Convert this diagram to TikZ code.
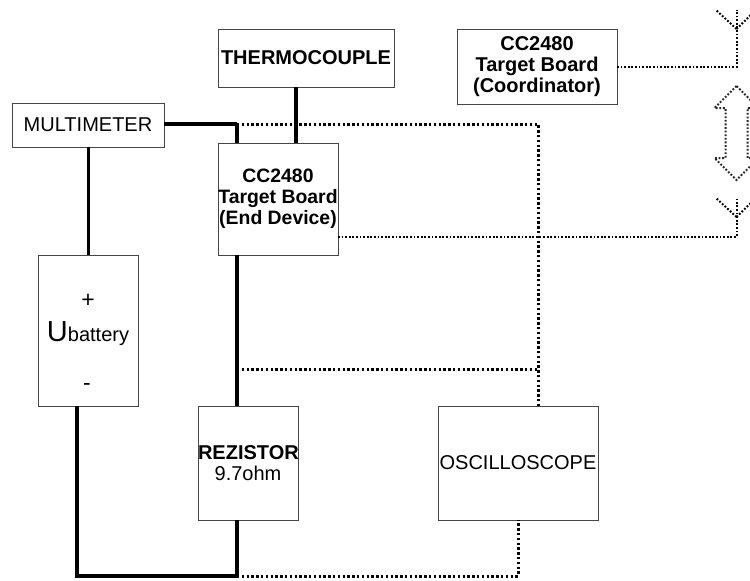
\documentclass[tikz,border=0pt]{standalone}
\usepackage{fontspec}
\setmainfont{Liberation Sans}
\usetikzlibrary{positioning, shapes.arrows}
\definecolor{boxgray}{RGB}{70, 70, 70}
\hfuzz=10pt
\begin{document}
\begin{tikzpicture}[
  x=1pt, y=-1pt,
  box/.style={rectangle, draw=boxgray, line width=1pt, outer sep=0pt, inner sep=0pt,
              align=center, fill=white, font=\fontsize{20}{21}\selectfont},
  boldbox/.style={box, font=\fontsize{20}{21}\selectfont\bfseries},
  wire/.style={line width=4pt, black},
  signal/.style={line width=3pt, black, dash pattern=on 2.4pt off 2.4pt},
  radio/.style={line width=2pt, black, dash pattern=on 1.8pt off 1.8pt},
  radioarrow/.style={shape=double arrow, draw=black!85, line width=2pt,
              dash pattern=on 1.8pt off 1.8pt, rotate=90, inner xsep=0pt, inner ysep=10pt, outer sep=0pt,
              minimum height=94pt, minimum width=42pt, double arrow head extend=11pt}
]
  \clip (0,0) rectangle (750,581);
  \fill[white] (0,0) rectangle (750,581);

  \node[box, minimum width=152pt, minimum height=44pt] (multimeter) at (88,125) {MULTIMETER};
  \node[boldbox, minimum width=176pt, minimum height=58pt] (thermo) at (306,58) {THERMOCOUPLE};
  \node[boldbox, minimum width=160pt, minimum height=75pt] (coordinator) at (537,66.5) {CC2480\\Target Board\\(Coordinator)};
  \node[boldbox, font=\fontsize{19.4}{21}\selectfont\bfseries, minimum width=120pt, minimum height=112pt] (board) at (278,199) {CC2480\\Target Board\\(End Device)};
  \node[box, below=108pt of multimeter, minimum width=100pt, minimum height=151pt] (battery) {};
  \node[box, text width=100pt, minimum height=114pt] (rezistor) at (248,463)
    {\textbf{REZISTOR}\\9.7ohm};
  \node[box, right=140pt of rezistor, minimum width=160pt, minimum height=114pt] (scope) {OSCILLOSCOPE};

  \node[font=\fontsize{23}{23}\selectfont] (plus) at (88,301) {+};
  \node[font=\fontsize{20}{20}\selectfont, anchor=base] (ubat) at (88,341)
    {{\fontsize{29}{29}\selectfont U}battery};
  \node[font=\fontsize{23}{23}\selectfont] (minus) at (87,387) {-};

  \coordinate (tapmeter) at (237,124);
  \coordinate (cornermeter) at (538,124);
  \coordinate (tapmid) at (237,369);
  \coordinate (cornermid) at (538,369);
  \coordinate (tapbottom) at (237,576);
  \coordinate (cornerbat) at (77,576);
  \coordinate (cornerscope) at (518,576);

  \draw[wire, line width=3.5pt] (multimeter.east |- tapmeter) -- (tapmeter);
  \draw[wire] (tapmeter) -- (tapmeter |- board.north);
  \draw[wire] (296,87) -- (296,143);
  \draw[wire, line width=3pt] (multimeter.south) -- (battery.north);
  \draw[wire] (tapmeter |- board.south) -- (tapmeter |- rezistor.north);
  \draw[wire] (tapmeter |- rezistor.south) -- (tapbottom);
  \draw[wire] (cornerbat |- battery.south) -- (cornerbat) -- (tapbottom);

  \draw[signal] (tapmeter) -- (cornermeter) -- (cornermeter |- scope.north);
  \draw[signal] (tapmid) -- (cornermid);
  \draw[signal] (tapbottom) -- (cornerscope) -- (cornerscope |- scope.south);

  \coordinate (aeriala) at (736.5,67);
  \coordinate (aerialb) at (736.5,237);
  \coordinate (joina) at (736.5,29);
  \coordinate (joinb) at (736.5,217);
  \draw[radio] (coordinator.east |- aeriala) -- (aeriala) -- (736.5,10);
  \draw[radio] (joina) -- (716,10);
  \draw[radio] (joina) -- (756,10);
  \draw[radio] (board.east |- aerialb) -- (aerialb) -- (736.5,199);
  \draw[radio] (joinb) -- (716,198);
  \draw[radio] (joinb) -- (756,198);

  \node[radioarrow] (linkarrow) at (736.5,133) {};
\end{tikzpicture}
\end{document}
